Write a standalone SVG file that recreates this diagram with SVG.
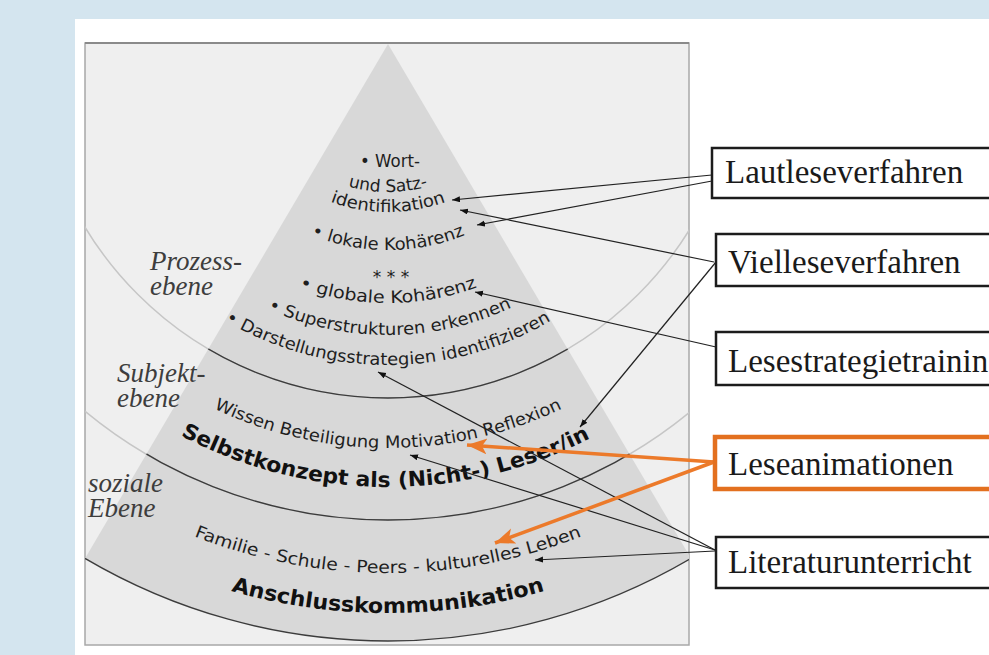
<svg xmlns="http://www.w3.org/2000/svg" width="989" height="655" viewBox="0 0 989 655">
<defs>
<style>
.lbl{font-family:"Liberation Serif","Times New Roman",serif;font-style:italic;font-size:27px;fill:#3d3d3d}
.pt{font-family:"DejaVu Sans",Verdana,sans-serif;font-size:17px;fill:#1e1e1e}
.pb{font-family:"DejaVu Sans",Verdana,sans-serif;font-size:21px;font-weight:bold;fill:#111}
.box{fill:#fff;stroke:#1c1c1c;stroke-width:2.5}
.boxo{fill:#fff;stroke:#e3701f;stroke-width:4.5}
.bt{font-family:"Liberation Serif","Times New Roman",serif;font-size:33px;fill:#1a1a1a}
.con{stroke:#222;stroke-width:1.2;fill:none;marker-end:url(#ah)}
.cono{stroke:#ec7a2a;stroke-width:3.5;fill:none;marker-end:url(#aho)}
.lt{fill:none;stroke:#c6c6c6;stroke-width:1.5}
.dk{fill:none;stroke:#3c3c3c;stroke-width:1.3}
</style>
<marker id="ah" markerUnits="userSpaceOnUse" markerWidth="10" markerHeight="8" refX="8" refY="3" orient="auto"><path d="M0,0 L8,3 L0,6 z" fill="#111"/></marker>
<marker id="aho" markerUnits="userSpaceOnUse" markerWidth="22" markerHeight="18" refX="20" refY="8" orient="auto"><path d="M0,0 L20,8 L0,16 L5,8 z" fill="#ec7a2a"/></marker>
<clipPath id="frameClip"><rect x="85" y="43" width="604" height="602"/></clipPath>
<clipPath id="sectorClip"><path d="M388,44 L85,558.4 A597,597 0 0 0 691,558.4 Z"/></clipPath>
<path id="r148" d="M283.35,148.65 A148,148 0 0 0 492.65,148.65"/>
<path id="r168" d="M269.21,162.79 A168,168 0 0 0 506.79,162.79"/>
<path id="r206" d="M242.34,189.66 A206,206 0 0 0 533.66,189.66"/>
<path id="r259" d="M204.86,227.14 A259,259 0 0 0 571.14,227.14"/>
<path id="r291" d="M182.23,249.77 A291,291 0 0 0 593.77,249.77"/>
<path id="r321" d="M161.02,270.98 A321,321 0 0 0 614.98,270.98"/>
<path id="r404" d="M102.33,329.67 A404,404 0 0 0 673.67,329.67"/>
<path id="r443" d="M74.75,357.25 A443,443 0 0 0 701.25,357.25"/>
<path id="r529" d="M13.94,418.06 A529,529 0 0 0 762.06,418.06"/>
<path id="r569" d="M-14.34,446.34 A569,569 0 0 0 790.34,446.34"/>
</defs>

<rect width="989" height="655" fill="#d4e5ef"/>
<rect x="75" y="19" width="914" height="636" fill="#ffffff"/>

<g id="frame">
<rect x="85" y="43" width="604" height="602" fill="#efefef" stroke="#a8a8a8" stroke-width="1.5"/>
<line x1="85" y1="43" x2="689" y2="43" stroke="#8a8a8a" stroke-width="2"/>
</g>

<g id="pyramid">
<path d="M388,44 L85,558.4 A597,597 0 0 0 691,558.4 Z" fill="#d8d8d8" clip-path="url(#frameClip)"/>
<g clip-path="url(#frameClip)">
<circle cx="388" cy="44" r="354" class="lt"/>
<circle cx="388" cy="44" r="476" class="lt"/>
</g>
<g clip-path="url(#sectorClip)">
<circle cx="388" cy="44" r="354" class="dk"/>
<circle cx="388" cy="44" r="476" class="dk"/>
</g>
<path d="M85,558.4 A597,597 0 0 0 691,558.4" class="dk" clip-path="url(#frameClip)"/>
</g>

<g id="level-labels">
<text class="lbl" x="150" y="270">Prozess-</text>
<text class="lbl" x="150" y="295">ebene</text>
<text class="lbl" x="117" y="382">Subjekt-</text>
<text class="lbl" x="117" y="407">ebene</text>
<text class="lbl" x="88" y="492">soziale</text>
<text class="lbl" x="88" y="517">Ebene</text>
</g>

<g id="prozess-ebene">
<text class="pt" x="390" y="167" text-anchor="middle" textLength="60" lengthAdjust="spacingAndGlyphs">• Wort-</text>
<text class="pt" text-anchor="middle"><textPath href="#r148" startOffset="50%" textLength="81" lengthAdjust="spacingAndGlyphs">und Satz-</textPath></text>
<text class="pt" text-anchor="middle"><textPath href="#r168" startOffset="50%" textLength="118" lengthAdjust="spacingAndGlyphs">identifikation</textPath></text>
<text class="pt" text-anchor="middle"><textPath href="#r206" startOffset="50%" textLength="158" lengthAdjust="spacingAndGlyphs">• lokale Kohärenz</textPath></text>
<text class="pt" x="391" y="283" text-anchor="middle">* * *</text>
<text class="pt" text-anchor="middle"><textPath href="#r259" startOffset="50%" textLength="182" lengthAdjust="spacingAndGlyphs">• globale  Kohärenz</textPath></text>
<text class="pt" text-anchor="middle"><textPath href="#r291" startOffset="50.4%" textLength="252" lengthAdjust="spacingAndGlyphs">• Superstrukturen erkennen</textPath></text>
<text class="pt" text-anchor="middle"><textPath href="#r321" startOffset="50%" textLength="342" lengthAdjust="spacingAndGlyphs">• Darstellungsstrategien identifizieren</textPath></text>
</g>

<g id="subjekt-ebene">
<text class="pt" text-anchor="middle"><textPath href="#r404" startOffset="50%" textLength="360" lengthAdjust="spacingAndGlyphs">Wissen Beteiligung Motivation Reflexion</textPath></text>
<text class="pb" text-anchor="middle"><textPath href="#r443" startOffset="49.6%" textLength="426" lengthAdjust="spacingAndGlyphs">Selbstkonzept als (Nicht-) Leser/in</textPath></text>
</g>

<g id="soziale-ebene">
<text class="pt" text-anchor="middle"><textPath href="#r529" startOffset="50%" textLength="397" lengthAdjust="spacingAndGlyphs">Familie - Schule - Peers - kulturelles Leben</textPath></text>
<text class="pb" text-anchor="middle"><textPath href="#r569" startOffset="50%" textLength="318" lengthAdjust="spacingAndGlyphs">Anschlusskommunikation</textPath></text>
</g>

<g id="connectors">
<path class="con" d="M712,175 L452,200"/>
<path class="con" d="M712,181 L477,225"/>
<path class="con" d="M714,262 L460,210"/>
<path class="con" d="M716,262 L580,427"/>
<path class="con" d="M716,347 L475,292"/>
<path class="con" d="M715,550 L378,372"/>
<path class="con" d="M715,550 L410,455"/>
<path class="con" d="M715,551 L535,560"/>
<path class="cono" d="M714,462 L467,445"/>
<path class="cono" d="M714,462 L495,543"/>
</g>

<g id="node-lautleseverfahren">
<rect class="box" x="712" y="148" width="300" height="50"/>
<text class="bt" x="725" y="183">Lautleseverfahren</text>
</g>
<g id="node-vielleseverfahren">
<rect class="box" x="716" y="234" width="300" height="52"/>
<text class="bt" x="728" y="273">Vielleseverfahren</text>
</g>
<g id="node-lesestrategietraining">
<rect class="box" x="716" y="332" width="300" height="53"/>
<text class="bt" x="728" y="372">Lesestrategietraining</text>
</g>
<g id="node-leseanimationen">
<rect class="boxo" x="715" y="437" width="300" height="52"/>
<text class="bt" x="728" y="475">Leseanimationen</text>
</g>
<g id="node-literaturunterricht">
<rect class="box" x="716" y="537" width="300" height="51"/>
<text class="bt" x="728" y="573">Literaturunterricht</text>
</g>
</svg>
